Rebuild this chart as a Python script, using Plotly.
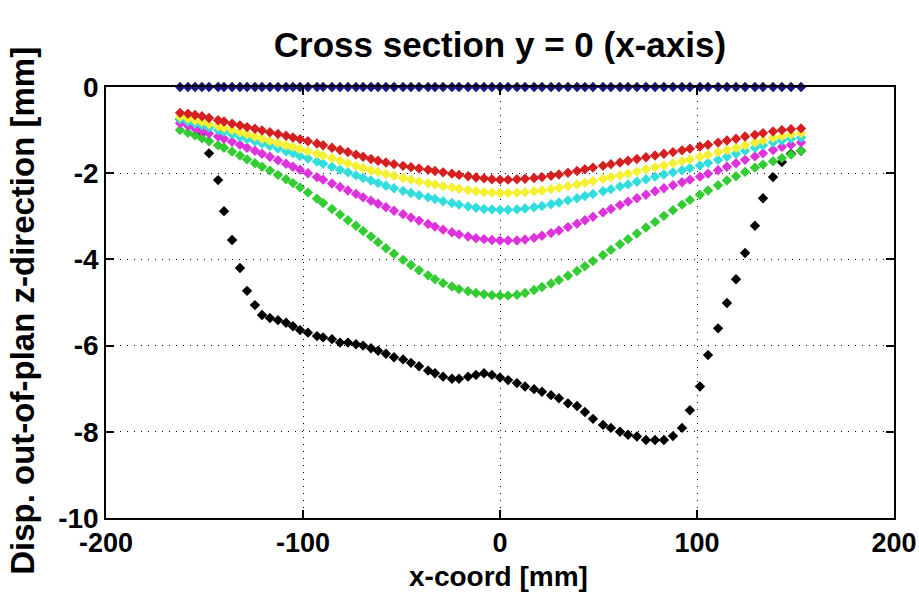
import plotly.graph_objects as go

x_coord = [-162.4, -158.4, -154.8, -151.3, -147.7, -143.1, -140.1, -136.0, -132.0, -128.4,
           -124.4, -120.8, -116.8, -112.7, -108.6, -105.1, -101.5, -97.5, -92.9, -89.8,
           -85.3, -81.2, -77.2, -73.1, -69.5, -65.5, -61.9, -57.9, -53.8, -49.2,
           -45.2, -41.1, -36.5, -33.0, -28.9, -24.4, -20.8, -16.2, -12.2, -8.1,
           -4.1, 0.0, 4.1, 8.6, 12.7, 17.3, 21.3, 25.9, 29.9, 34.5,
           39.1, 43.1, 47.2, 52.3, 56.3, 60.9, 65.0, 69.5, 74.1, 78.7,
           83.2, 87.8, 92.4, 96.4, 101.5, 105.6, 110.7, 115.2, 119.8, 124.4,
           129.4, 133.5, 138.6, 143.1, 147.7, 152.8]

disp_blue = [0.0] * 76

disp_red = [-0.60, -0.62, -0.65, -0.68, -0.72, -0.77, -0.80, -0.85, -0.89, -0.93,
            -0.97, -1.01, -1.05, -1.09, -1.13, -1.17, -1.21, -1.26, -1.31, -1.35,
            -1.41, -1.46, -1.51, -1.57, -1.62, -1.67, -1.71, -1.75, -1.79, -1.83,
            -1.86, -1.89, -1.92, -1.95, -1.98, -2.01, -2.04, -2.07, -2.10, -2.12,
            -2.14, -2.15, -2.15, -2.14, -2.13, -2.11, -2.09, -2.06, -2.03, -1.99,
            -1.95, -1.91, -1.87, -1.83, -1.79, -1.75, -1.71, -1.67, -1.63, -1.59,
            -1.55, -1.51, -1.47, -1.43, -1.38, -1.34, -1.29, -1.24, -1.20, -1.15,
            -1.11, -1.07, -1.03, -1.00, -0.98, -0.96]

disp_yellow = [-0.69, -0.73, -0.77, -0.81, -0.86, -0.91, -0.95, -1.00, -1.05, -1.10,
               -1.15, -1.20, -1.25, -1.30, -1.35, -1.39, -1.44, -1.49, -1.55, -1.59,
               -1.65, -1.71, -1.77, -1.83, -1.88, -1.93, -1.97, -2.02, -2.06, -2.11,
               -2.15, -2.19, -2.23, -2.26, -2.30, -2.33, -2.36, -2.39, -2.42, -2.44,
               -2.45, -2.46, -2.46, -2.45, -2.44, -2.42, -2.40, -2.37, -2.34, -2.30,
               -2.26, -2.22, -2.18, -2.13, -2.09, -2.05, -2.01, -1.96, -1.91, -1.86,
               -1.82, -1.77, -1.72, -1.68, -1.62, -1.57, -1.51, -1.46, -1.41, -1.35,
               -1.29, -1.24, -1.18, -1.14, -1.10, -1.07]

disp_cyan = [-0.75, -0.80, -0.85, -0.89, -0.94, -1.00, -1.04, -1.10, -1.16, -1.21,
             -1.26, -1.31, -1.37, -1.43, -1.49, -1.54, -1.60, -1.66, -1.73, -1.78,
             -1.85, -1.92, -1.98, -2.05, -2.11, -2.17, -2.23, -2.29, -2.35, -2.41,
             -2.46, -2.51, -2.56, -2.60, -2.65, -2.69, -2.73, -2.77, -2.80, -2.83,
             -2.84, -2.85, -2.85, -2.84, -2.82, -2.79, -2.76, -2.72, -2.68, -2.63,
             -2.58, -2.53, -2.48, -2.42, -2.37, -2.31, -2.26, -2.20, -2.14, -2.08,
             -2.03, -1.98, -1.93, -1.88, -1.82, -1.76, -1.69, -1.62, -1.55, -1.48,
             -1.41, -1.35, -1.29, -1.24, -1.20, -1.17]

disp_magenta = [-0.84, -0.90, -0.96, -1.02, -1.08, -1.15, -1.20, -1.27, -1.34, -1.41,
                -1.48, -1.55, -1.62, -1.70, -1.78, -1.85, -1.92, -2.00, -2.09, -2.15,
                -2.24, -2.32, -2.40, -2.48, -2.56, -2.64, -2.71, -2.79, -2.87, -2.95,
                -3.03, -3.10, -3.18, -3.24, -3.31, -3.37, -3.42, -3.47, -3.51, -3.53,
                -3.55, -3.56, -3.56, -3.56, -3.54, -3.50, -3.45, -3.39, -3.33, -3.25,
                -3.17, -3.09, -3.01, -2.91, -2.83, -2.74, -2.66, -2.58, -2.50, -2.42,
                -2.35, -2.28, -2.21, -2.15, -2.08, -2.01, -1.93, -1.85, -1.77, -1.69,
                -1.61, -1.54, -1.46, -1.39, -1.34, -1.29]

disp_green = [-1.00, -1.06, -1.12, -1.19, -1.26, -1.35, -1.41, -1.50, -1.59, -1.68,
              -1.77, -1.85, -1.94, -2.04, -2.14, -2.23, -2.33, -2.45, -2.59, -2.69,
              -2.83, -2.96, -3.09, -3.22, -3.34, -3.47, -3.60, -3.74, -3.87, -4.01,
              -4.13, -4.25, -4.37, -4.46, -4.55, -4.63, -4.69, -4.74, -4.78, -4.81,
              -4.83, -4.84, -4.84, -4.82, -4.78, -4.71, -4.64, -4.56, -4.48, -4.38,
              -4.27, -4.16, -4.04, -3.90, -3.78, -3.65, -3.53, -3.40, -3.26, -3.13,
              -2.99, -2.86, -2.73, -2.62, -2.50, -2.40, -2.28, -2.17, -2.07, -1.97,
              -1.87, -1.80, -1.72, -1.65, -1.57, -1.48]

disp_black = [-0.75, -0.76, -0.83, -1.07, -1.54, -2.16, -2.88, -3.55, -4.20, -4.73,
              -5.06, -5.29, -5.36, -5.41, -5.47, -5.55, -5.64, -5.70, -5.78, -5.81,
              -5.85, -5.93, -5.93, -5.97, -6.00, -6.06, -6.12, -6.19, -6.27, -6.32,
              -6.40, -6.48, -6.58, -6.64, -6.72, -6.77, -6.77, -6.72, -6.68, -6.64,
              -6.68, -6.74, -6.80, -6.87, -6.95, -7.01, -7.07, -7.15, -7.22, -7.34,
              -7.40, -7.54, -7.70, -7.84, -7.91, -8.00, -8.07, -8.11, -8.19, -8.19,
              -8.19, -8.10, -7.91, -7.50, -6.95, -6.22, -5.60, -5.01, -4.46, -3.85,
              -3.22, -2.58, -2.09, -1.74, -1.55, -1.48]

x_ticks = [-200, -100, 0, 100, 200]
y_ticks = [0, -2, -4, -6, -8, -10]

series = [
    (disp_black, "#000000", False),
    (disp_green, "#33cc33", False),
    (disp_magenta, "#dd33dd", False),
    (disp_cyan, "#33dddd", False),
    (disp_yellow, "#f5f032", False),
    (disp_red, "#d42020", False),
    (disp_blue, "#161680", True),
]

fig = go.Figure()
for ys, col, with_line in series:
    fig.add_trace(go.Scatter(
        x=x_coord, y=ys,
        mode="lines+markers" if with_line else "markers",
        line=dict(color=col, width=1.5),
        marker=dict(symbol="diamond", size=8, color=col, line=dict(width=0)),
        cliponaxis=not with_line,
        showlegend=False, hoverinfo="skip",
    ))

font_main = "Liberation Sans, Arial, sans-serif"

fig.update_layout(
    width=919, height=593,
    margin=dict(l=106, r=25, t=87, b=75, autoexpand=False),
    paper_bgcolor="white", plot_bgcolor="white",
    title=dict(text="Cross section y = 0 (x-axis)", x=0.544, xanchor="center",
               y=0.925, yanchor="middle",
               font=dict(family=font_main, size=35, color="black", weight="bold")),
    font=dict(family=font_main, color="black"),
    annotations=[
        dict(text="x-coord [mm]", xref="paper", yref="paper", x=0.4975, y=-0.1346,
             xanchor="center", yanchor="middle", showarrow=False,
             font=dict(family=font_main, size=28, color="black", weight="bold")),
        dict(text="Disp. out-of-plan z-direction [mm]", xref="paper", yref="paper",
             x=-0.107, y=0.48, textangle=-90, xanchor="center", yanchor="middle",
             showarrow=False,
             font=dict(family=font_main, size=33, color="black", weight="bold")),
    ],
)

fig.update_xaxes(
    range=[-200, 200], tickvals=x_ticks, ticktext=[str(v) for v in x_ticks],
    automargin=False,
    showline=True, linecolor="black", linewidth=1.5, mirror="ticks",
    ticks="inside", ticklen=8, tickcolor="black", tickwidth=1.5,
    showgrid=True, gridcolor="black", gridwidth=1, griddash="1px,6px",
    zeroline=False,
    tickfont=dict(family=font_main, size=27, color="black", weight="bold"),
)
fig.update_yaxes(
    range=[-10, 0], tickvals=y_ticks, ticktext=[str(v) for v in y_ticks],
    automargin=False,
    showline=True, linecolor="black", linewidth=1.5, mirror="ticks",
    ticks="inside", ticklen=8, tickcolor="black", tickwidth=1.5,
    showgrid=True, gridcolor="black", gridwidth=1, griddash="1px,6px",
    zeroline=False,
    tickfont=dict(family=font_main, size=28, color="black", weight="bold"),
)

fig.write_html("out.html")
